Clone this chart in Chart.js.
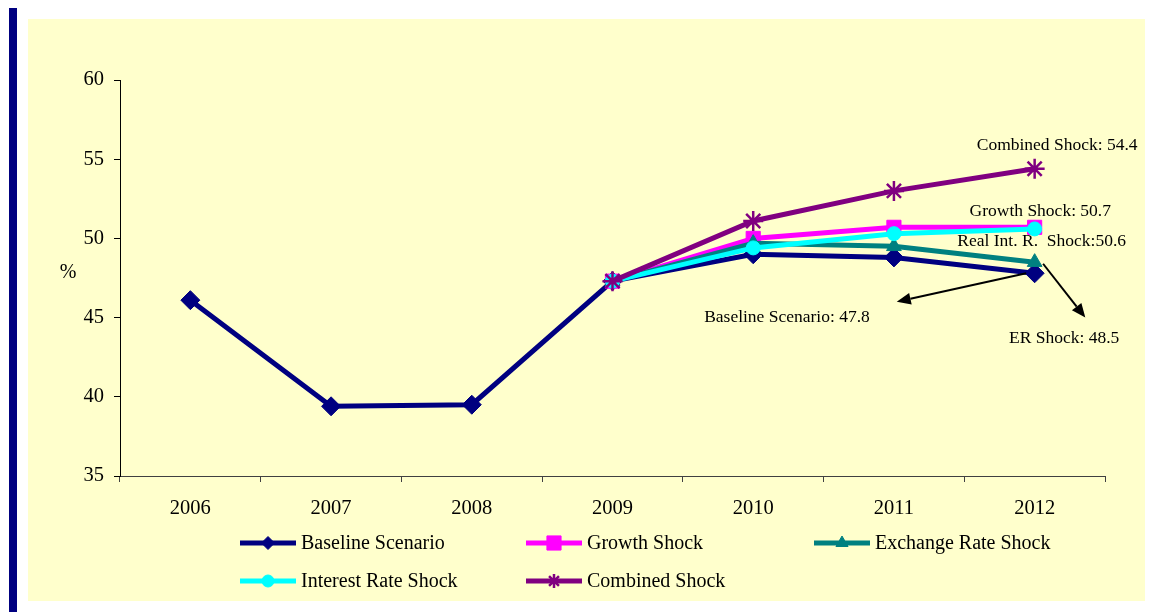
<!DOCTYPE html>
<html>
<head>
<meta charset="utf-8">
<script src="https://cdn.jsdelivr.net/npm/chart.js@4.4.0/dist/chart.umd.min.js"></script>
<style>
  html, body { margin: 0; padding: 0; background: #ffffff; width: 1149px; height: 612px; overflow: hidden; }
  #bar { position: absolute; left: 9px; top: 8px; width: 8px; height: 604px; background: #000080; }
  #panel { position: absolute; left: 28px; top: 19px; width: 1117px; height: 582px; background: #FFFFCC; }
  #c { position: absolute; left: 0; top: 0; }
</style>
</head>
<body>
<div id="bar"></div>
<div id="panel"><canvas id="c" width="1117" height="582"></canvas></div>
<script>
const years = ['2006', '2007', '2008', '2009', '2010', '2011', '2012'];
const baseline = [46.1, 39.4, 39.5, 47.3, 49.0, 48.8, 47.8];
const growthShock = [null, null, null, 47.3, 50.0, 50.7, 50.7];
const exchangeRateShock = [null, null, null, 47.3, 49.7, 49.5, 48.5];
const interestRateShock = [null, null, null, 47.3, 49.4, 50.3, 50.6];
const combinedShock = [null, null, null, 47.3, 51.1, 53.0, 54.4];
const yTicks = [35, 40, 45, 50, 55, 60];

// annotations: [text, category index (fractional), value]
const annotationLabels = [
  ['Combined Shock: 54.4', 6.16, 55.9],
  ['Growth Shock: 50.7', 6.04, 51.7],
  ['Real Int. R.  Shock:50.6', 6.05, 49.8],
  ['Baseline Scenario: 47.8', 4.24, 45.0],
  ['ER Shock: 48.5', 6.21, 43.7]
];
// arrows: [fromIndex, fromValue, toIndex, toValue]
const annotationArrows = [
  [5.94, 47.8, 5.02, 46.0],
  [6.06, 48.4, 6.36, 45.0]
];

const FONT = '"Liberation Serif", "Times New Roman", serif';

const annotatePlugin = {
  id: 'annotate',
  afterDatasetsDraw(chart) {
    const ctx = chart.ctx;
    const xs = chart.scales.x, ys = chart.scales.y;
    const step = xs.getPixelForValue(1) - xs.getPixelForValue(0);
    const px = i => xs.getPixelForValue(0) + i * step;
    ctx.save();
    ctx.fillStyle = '#000';
    ctx.font = '17.5px ' + FONT;
    ctx.textAlign = 'center';
    ctx.textBaseline = 'middle';
    annotationLabels.forEach(([t, i, v]) => ctx.fillText(t, px(i), ys.getPixelForValue(v)));
    ctx.strokeStyle = '#000';
    ctx.lineWidth = 2;
    annotationArrows.forEach(([i0, v0, i1, v1]) => {
      const x0 = px(i0), y0 = ys.getPixelForValue(v0), x1 = px(i1), y1 = ys.getPixelForValue(v1);
      const ang = Math.atan2(y1 - y0, x1 - x0);
      const L = 14, W = 6;
      const bx = x1 - L * Math.cos(ang), by = y1 - L * Math.sin(ang);
      ctx.beginPath(); ctx.moveTo(x0, y0); ctx.lineTo(bx, by); ctx.stroke();
      ctx.beginPath();
      ctx.moveTo(x1, y1);
      ctx.lineTo(bx + W * Math.sin(ang), by - W * Math.cos(ang));
      ctx.lineTo(bx - W * Math.sin(ang), by + W * Math.cos(ang));
      ctx.closePath(); ctx.fill();
    });
    // y axis unit label
    ctx.font = '20px ' + FONT;
    ctx.fillText('%', 40, ys.getPixelForValue(47.8));
    ctx.restore();
  },
  afterDraw(chart) {
    const ctx = chart.ctx;
    const ds = chart.data.datasets;
    const slots = [[212, 524], [498, 524], [786, 524], [212, 562], [498, 562]];
    ds.forEach((d, k) => {
      const [lx, ly] = slots[k];
      ctx.save();
      ctx.strokeStyle = d.borderColor;
      ctx.lineWidth = 5;
      ctx.beginPath(); ctx.moveTo(lx, ly); ctx.lineTo(lx + 56, ly); ctx.stroke();
      ctx.fillStyle = d.borderColor;
      ctx.strokeStyle = d.borderColor;
      ctx.lineWidth = d.pointBorderWidth || 1;
      Chart.helpers.drawPoint(ctx, { pointStyle: d.pointStyle, radius: d.legendRadius, borderWidth: d.pointBorderWidth || 1, rotation: 0 }, lx + 28, ly);
      ctx.fillStyle = '#000';
      ctx.font = '20px ' + FONT;
      ctx.textAlign = 'left';
      ctx.textBaseline = 'middle';
      ctx.fillText(d.label, lx + 61, ly + 1);
      ctx.restore();
    });
  }
};

function series(label, data, color, style, radius, legendRadius, order, bw) {
  return {
    label, data, order, legendRadius,
    borderColor: color, backgroundColor: color,
    pointBackgroundColor: color, pointBorderColor: color,
    pointStyle: style, pointRadius: radius, pointHoverRadius: radius,
    pointBorderWidth: bw || 1,
    borderWidth: 5, tension: 0, spanGaps: false
  };
}

new Chart(document.getElementById('c'), {
  type: 'line',
  data: {
    labels: years,
    datasets: [
      series('Baseline Scenario', baseline, '#000080', 'rectRot', 9.5, 6.5, 5),
      series('Growth Shock', growthShock, '#FF00FF', 'rect', 10, 10, 4),
      series('Exchange Rate Shock', exchangeRateShock, '#008080', 'triangle', 8.5, 7, 3),
      series('Interest Rate Shock', interestRateShock, '#00FFFF', 'circle', 7, 6, 2),
      series('Combined Shock', combinedShock, '#800080', 'star', 10, 7, 1, 2.5)
    ]
  },
  options: {
    responsive: false,
    animation: false,
    events: [],
    layout: { padding: { top: 61, right: 40, left: 0, bottom: 0 } },
    plugins: { legend: { display: false }, tooltip: { enabled: false } },
    scales: {
      x: {
        type: 'category',
        offset: true,
        grid: { display: true, offset: true, drawOnChartArea: false, drawTicks: true, tickLength: 6, color: '#404040', lineWidth: 1 },
        border: { display: true, color: '#404040', width: 1 },
        ticks: { color: '#000', font: { family: FONT, size: 20.5 }, padding: 14, maxRotation: 0 },
        afterFit(s) { s.height = 125; }
      },
      y: {
        min: 35, max: 60,
        afterBuildTicks(s) { s.ticks = yTicks.map(v => ({ value: v })); },
        grid: { display: true, drawOnChartArea: false, drawTicks: true, tickLength: 6, color: '#000', lineWidth: 1 },
        border: { display: true, color: '#000', width: 1 },
        ticks: { color: '#000', font: { family: FONT, size: 20.5 }, padding: 10 },
        afterFit(s) { s.width = 92; }
      }
    }
  },
  plugins: [annotatePlugin]
});
</script>
</body>
</html>
